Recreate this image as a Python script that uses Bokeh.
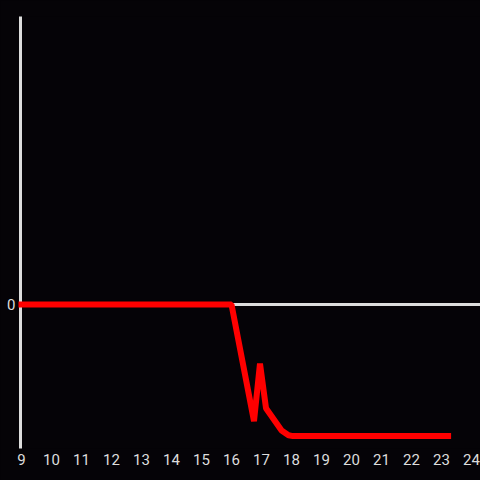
from bokeh.plotting import figure
from bokeh.models import Range1d, Span, FixedTicker
from bokeh.embed import file_html
from bokeh.resources import INLINE

hours = [9.0, 16.0, 16.75, 16.95, 17.15, 17.67, 17.9, 18.05, 23.22]
values = [0.0, 0.0, -81.0, -41.0, -72.0, -87.5, -90.8, -91.4, -91.4]
x_ticks = list(range(9, 25))
y_ticks = [0]

BG = "#050307"
AX = "#dddddd"

p = figure(width=480, height=480, output_backend="svg", toolbar_location=None,
           x_range=Range1d(8.967, 24.3), y_range=Range1d(-100, 200),
           min_border_left=20, min_border_right=0, min_border_top=16, min_border_bottom=32,
           background_fill_color=BG, border_fill_color=BG, outline_line_color=None)
p.styles = {"background-color": BG}
p.grid.visible = False

p.add_layout(Span(location=0, dimension="width", line_color=AX, line_width=3))

p.line(hours, values, line_color="#ff0000", line_width=6, line_join="bevel",
       line_cap="square", level="overlay")

xa = p.xaxis[0]
xa.ticker = FixedTicker(ticks=x_ticks)
xa.axis_line_color = None
xa.major_tick_line_color = None
xa.minor_tick_line_color = None
xa.major_tick_out = 0
xa.major_label_standoff = 5
xa.major_label_text_color = AX
xa.major_label_text_font = "Roboto"
xa.major_label_text_font_size = "15px"

ya = p.yaxis[0]
ya.ticker = FixedTicker(ticks=y_ticks)
ya.axis_line_color = AX
ya.axis_line_width = 3
ya.major_tick_line_color = None
ya.minor_tick_line_color = None
ya.major_tick_out = 0
ya.major_tick_in = 0
ya.major_label_standoff = 5
ya.major_label_text_color = AX
ya.major_label_text_font = "Roboto"
ya.major_label_text_font_size = "15px"

open("out.html", "w").write(file_html(p, INLINE))
